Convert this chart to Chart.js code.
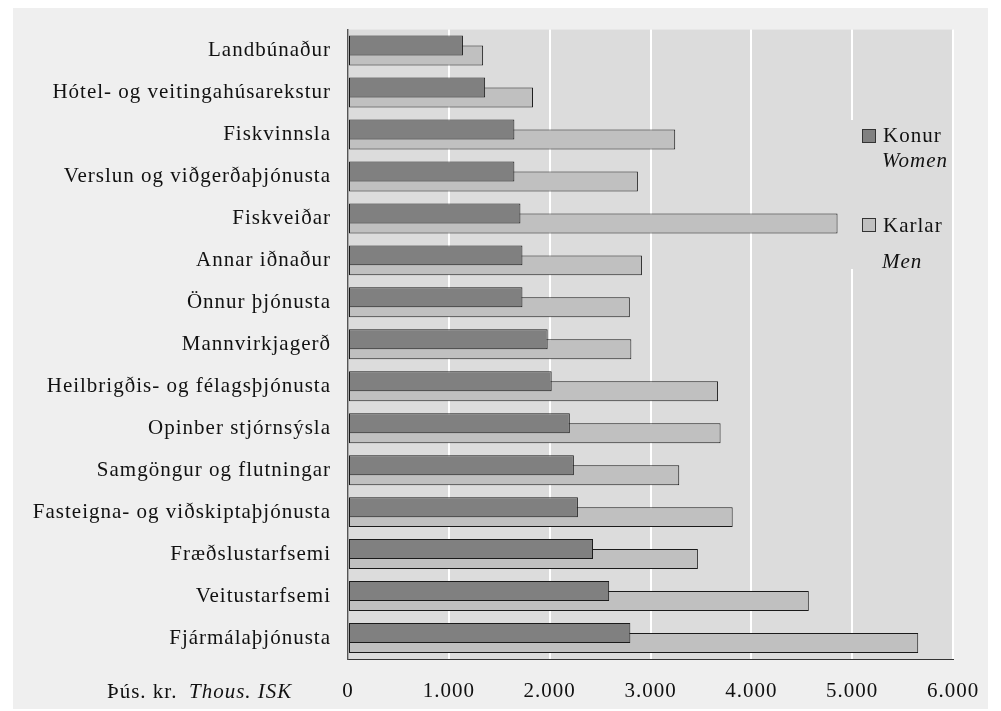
<!DOCTYPE html>
<html>
<head>
<meta charset="utf-8">
<script src="https://cdn.jsdelivr.net/npm/chart.js@4.4.1/dist/chart.umd.min.js"></script>
<style>
  html, body { margin: 0; padding: 0; background: #ffffff; }
  #wrap { width: 1001px; height: 711px; }
</style>
</head>
<body>
<div id="wrap"><canvas id="myChart" width="1001" height="711"></canvas></div>
<script>
const categories = [
  'Landbúnaður',
  'Hótel- og veitingahúsarekstur',
  'Fiskvinnsla',
  'Verslun og viðgerðaþjónusta',
  'Fiskveiðar',
  'Annar iðnaður',
  'Önnur þjónusta',
  'Mannvirkjagerð',
  'Heilbrigðis- og félagsþjónusta',
  'Opinber stjórnsýsla',
  'Samgöngur og flutningar',
  'Fasteigna- og viðskiptaþjónusta',
  'Fræðslustarfsemi',
  'Veitustarfsemi',
  'Fjármálaþjónusta'
];
const konur = [1140, 1360, 1650, 1650, 1710, 1730, 1730, 1980, 2020, 2200, 2240, 2280, 2430, 2590, 2800];
const karlar = [1340, 1835, 3245, 2875, 4855, 2915, 2795, 2810, 3670, 3695, 3285, 3815, 3470, 4570, 5655];
const tickLabels = ['0', '1.000', '2.000', '3.000', '4.000', '5.000', '6.000'];

const serif = '"Liberation Serif", "Times New Roman", serif';
Chart.defaults.font.family = serif;
Chart.defaults.font.size = 21;
Chart.defaults.color = '#111111';

// backgrounds, legend box and the unit note are drawn by hand
let decor = {
  id: 'decor',
  beforeDraw(chart) {
    let ctx = chart.ctx;
    let a = chart.chartArea;
    ctx.save();
    ctx.fillStyle = '#ffffff';
    ctx.fillRect(0, 0, chart.width, chart.height);
    ctx.fillStyle = '#efefef';
    ctx.fillRect(13, 8, 975, 701);
    ctx.fillStyle = '#dcdcdc';
    ctx.fillRect(a.left, a.top, a.right - a.left, a.bottom - a.top);
    ctx.restore();
    ctx.letterSpacing = '1px';
  },
  afterDraw(chart) {
    let ctx = chart.ctx;
    ctx.save();
    ctx.letterSpacing = '1px';
    // legend
    ctx.fillStyle = '#dcdcdc';
    ctx.fillRect(847, 120, 105, 149);
    ctx.strokeStyle = '#333333';
    ctx.lineWidth = 1;
    ctx.fillStyle = '#808080';
    ctx.fillRect(862.5, 129.5, 13, 13);
    ctx.strokeRect(862.5, 129.5, 13, 13);
    ctx.fillStyle = '#c0c0c0';
    ctx.fillRect(862.5, 218.5, 13, 13);
    ctx.strokeRect(862.5, 218.5, 13, 13);
    ctx.fillStyle = '#111111';
    ctx.textAlign = 'left';
    ctx.textBaseline = 'alphabetic';
    ctx.font = '21px ' + serif;
    ctx.fillText('Konur', 883, 142);
    ctx.fillText('Karlar', 883, 232);
    ctx.font = 'italic 21px ' + serif;
    ctx.fillText('Women', 882, 167);
    ctx.fillText('Men', 882, 268);
    // unit note
    ctx.font = '21px ' + serif;
    ctx.fillText('Þús. kr.', 107, 698);
    ctx.font = 'italic 21px ' + serif;
    ctx.fillText('Thous. ISK', 189, 698);
    ctx.restore();
  }
};

let ctx = document.getElementById('myChart');
let myBarChart = new Chart(ctx, {
  type: 'bar',
  data: {
    labels: categories,
    datasets: [
      {
        label: 'Konur',
        data: konur,
        backgroundColor: '#808080',
        borderColor: '#1a1a1a',
        borderWidth: 1,
        borderSkipped: false
      },
      {
        label: 'Karlar',
        data: karlar,
        backgroundColor: '#c0c0c0',
        borderColor: '#1a1a1a',
        borderWidth: 1,
        borderSkipped: false
      }
    ]
  },
  options: {
    indexAxis: 'y',
    responsive: false,
    animation: false,
    devicePixelRatio: 1,
    categoryPercentage: 0.476,
    barPercentage: 2,
    layout: { padding: { top: 29, right: 48, bottom: 0, left: 0 } },
    plugins: {
      legend: { display: false },
      tooltip: { enabled: false }
    },
    scales: {
      x: {
        min: 0,
        max: 6000,
        ticks: {
          stepSize: 1000,
          padding: 20,
          color: '#111111',
          callback: (v) => tickLabels[v / 1000]
        },
        grid: { color: '#ffffff', lineWidth: 2, drawTicks: false },
        border: { color: '#333333', width: 1 },
        afterFit: (scale) => { scale.height = 52; }
      },
      y: {
        ticks: { padding: 17, color: '#111111' },
        grid: { display: false, drawTicks: false },
        border: { color: '#555555', width: 1.5 },
        afterFit: (scale) => { scale.width = 348; }
      }
    }
  },
  plugins: [decor]
});
</script>
</body>
</html>
